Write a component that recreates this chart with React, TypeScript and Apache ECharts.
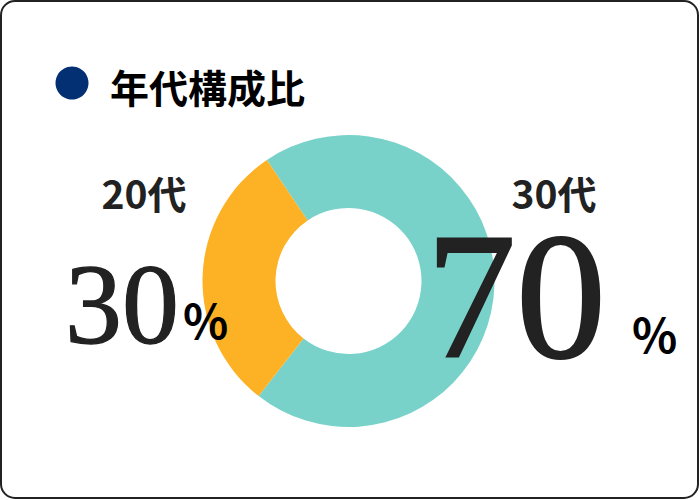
import * as echarts from "echarts";
import { useEffect, useRef } from "react";

const chartTitle = "年代構成比";
const ageGroups = ["30代", "20代"];
const shares = [70, 30];
const sliceColors = ["#79D2CA", "#FDB124"];

// where each group's label block sits (name, big number, "%")
const labelSpots = [
    { nameX: 554, nameY: 192, numX: 426, numY: 296, numSize: 180, pctX: 632, pctY: 332 },
    { nameX: 144, nameY: 192, numX: 65, numY: 304, numSize: 114, pctX: 183, pctY: 318 }
];

const sansJp = '"Noto Sans CJK JP", "Noto Sans", sans-serif';

export default function App() {
    const chartRef = useRef<HTMLDivElement>(null);

    useEffect(() => {
        document.body.style.margin = "0";
        if (!chartRef.current) return;

        const chart = echarts.init(chartRef.current, null, { renderer: "svg" });

        const labelGraphics: any[] = [];
        ageGroups.forEach((name, i) => {
            const spot = labelSpots[i];
            labelGraphics.push(
                {
                    type: "text",
                    z: 10,
                    x: spot.nameX,
                    y: spot.nameY,
                    style: {
                        text: name,
                        fill: "#222",
                        font: `bold 39px ${sansJp}`,
                        lineHeight: 40,
                        textAlign: "center",
                        textVerticalAlign: "middle"
                    }
                },
                {
                    type: "text",
                    z: 10,
                    x: spot.numX,
                    y: spot.numY,
                    style: {
                        text: String(shares[i]),
                        fill: "#222",
                        stroke: "#222",
                        lineWidth: spot.numSize / 90,
                        font: `${spot.numSize}px "Liberation Serif", serif`,
                        lineHeight: Math.round(spot.numSize * 0.72),
                        textAlign: "left",
                        textVerticalAlign: "middle"
                    }
                },
                {
                    type: "text",
                    z: 10,
                    x: spot.pctX,
                    y: spot.pctY,
                    style: {
                        text: "%",
                        fill: "#000",
                        font: `bold 47px ${sansJp}`,
                        lineHeight: 40,
                        textAlign: "left",
                        textVerticalAlign: "middle"
                    }
                }
            );
        });

        const option: echarts.EChartsOption = {
            animation: false,
            backgroundColor: "#fff",
            title: {
                text: chartTitle,
                left: 105,
                top: 61,
                textStyle: {
                    fontFamily: sansJp,
                    fontWeight: "bold",
                    fontSize: 39,
                    color: "#000"
                }
            },
            graphic: [
                {
                    type: "rect",
                    shape: { x: 1, y: 1, width: 697, height: 497, r: 14 },
                    style: { fill: "none", stroke: "#222", lineWidth: 2 },
                    silent: true
                },
                {
                    type: "circle",
                    shape: { cx: 72, cy: 83, r: 16.5 },
                    style: { fill: "#032F73" }
                },
                ...labelGraphics
            ],
            series: [
                {
                    type: "pie",
                    center: [348.5, 281],
                    radius: [73, 146],
                    startAngle: 124,
                    clockwise: true,
                    silent: true,
                    label: { show: false },
                    labelLine: { show: false },
                    data: ageGroups.map((name, i) => ({
                        name,
                        value: shares[i],
                        itemStyle: { color: sliceColors[i] }
                    }))
                }
            ]
        };

        chart.setOption(option);

        return () => {
            chart.dispose();
        };
    }, []);

    return <div ref={chartRef} style={{ width: 700, height: 500 }} />;
}
